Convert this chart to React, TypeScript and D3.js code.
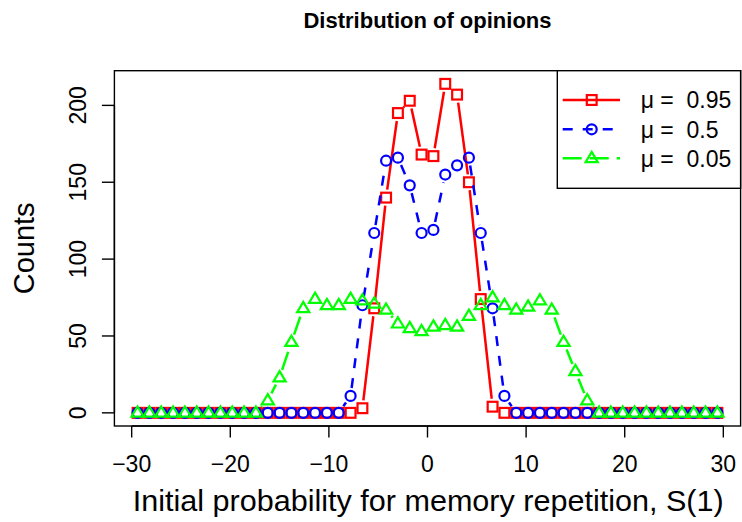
import React from "react";
import * as d3 from "d3";

// bin midpoints of S(1)
const binMids = [
  -29.4, -28.2, -27, -25.8, -24.6, -23.4, -22.2, -21, -19.8, -18.6,
  -17.4, -16.2, -15, -13.8, -12.6, -11.4, -10.2, -9, -7.8, -6.6,
  -5.4, -4.2, -3, -1.8, -0.6, 0.6, 1.8, 3, 4.2, 5.4,
  6.6, 7.8, 9, 10.2, 11.4, 12.6, 13.8, 15, 16.2, 17.4,
  18.6, 19.8, 21, 22.2, 23.4, 24.6, 25.8, 27, 28.2, 29.4,
];

const countsHigh = [
  0, 0, 0, 0, 0, 0, 0, 0, 0, 0,
  0, 0, 0, 0, 0, 0, 0, 0, 0, 3,
  68, 140, 195, 203, 168, 167, 214, 207, 150, 74,
  4, 0, 0, 0, 0, 0, 0, 0, 0, 0,
  0, 0, 0, 0, 0, 0, 0, 0, 0, 0,
];

const countsMid = [
  0, 0, 0, 0, 0, 0, 0, 0, 0, 0,
  0, 0, 0, 0, 0, 0, 0, 0, 11, 70,
  117, 164, 166, 148, 117, 119, 155, 161, 166, 117,
  68, 11, 0, 0, 0, 0, 0, 0, 0, 0,
  0, 0, 0, 0, 0, 0, 0, 0, 0, 0,
];

const countsLow = [
  0, 0, 0, 0, 0, 0, 0, 0, 0, 0,
  0, 8, 23, 46, 68, 74, 70, 70, 74, 73,
  71, 67, 58, 55, 53, 56, 57, 56, 63, 70,
  75, 70, 67, 69, 73, 67, 46, 27, 8, 0,
  0, 0, 0, 0, 0, 0, 0, 0, 0, 0,
];

const xTicks = [-30, -20, -10, 0, 10, 20, 30];
const yTicks = [0, 50, 100, 150, 200];
const muLabels = ["0.95", "0.5", "0.05"];

const series = [
  { values: countsHigh, color: "#ff0000", dash: "none", shape: "square" },
  { values: countsMid, color: "#0000ff", dash: "10,10", shape: "circle" },
  { values: countsLow, color: "#00ff00", dash: "19,8", shape: "triangle" },
];

const W = 742;
const H = 522;
const box = { left: 114.4, right: 740.6, top: 70.7, bottom: 426 };
const FONT = "'Liberation Sans', Arial, Helvetica, sans-serif";

// R-style 4% axis expansion
function padded(lo: number, hi: number): [number, number] {
  const d = (hi - lo) * 0.04;
  return [lo - d, hi + d];
}

function Marker({ shape, x, y, color }: { shape: string; x: number; y: number; color: string }) {
  const sw = 2.2;
  if (shape === "square") {
    return <rect x={x - 4.9} y={y - 4.9} width={9.8} height={9.8} fill="none" stroke={color} strokeWidth={sw} />;
  }
  if (shape === "circle") {
    return <circle cx={x} cy={y} r={5} fill="none" stroke={color} strokeWidth={sw} />;
  }
  const r = 6.4;
  const pts = [
    [x, y - r],
    [x + r * 0.95, y + r * 0.6],
    [x - r * 0.95, y + r * 0.6],
  ];
  return <polygon points={pts.map((p) => p.join(",")).join(" ")} fill="none" stroke={color} strokeWidth={sw} />;
}

export default function App() {
  const xs = d3.scaleLinear().domain(padded(d3.min(binMids)!, d3.max(binMids)!)).range([box.left, box.right]);
  const allVals = [...countsHigh, ...countsMid, ...countsLow];
  const ys = d3.scaleLinear().domain(padded(0, d3.max(allVals)!)).range([box.bottom, box.top]);

  const gap = 8;
  const segs = (vals: number[]) => {
    const out: [number, number, number, number][] = [];
    for (let i = 0; i < vals.length - 1; i++) {
      const x1 = xs(binMids[i]), y1 = ys(vals[i]);
      const x2 = xs(binMids[i + 1]), y2 = ys(vals[i + 1]);
      const len = Math.hypot(x2 - x1, y2 - y1);
      if (len <= 2 * gap) continue;
      const ux = (x2 - x1) / len, uy = (y2 - y1) / len;
      out.push([x1 + ux * gap, y1 + uy * gap, x2 - ux * gap, y2 - uy * gap]);
    }
    return out;
  };

  const legendRows = [100, 129.3, 158.3];

  return (
    <svg
      width={W}
      height={H}
      style={{ position: "absolute", left: 0, top: 0, background: "#fff" }}
      fontFamily={FONT}
    >
      <rect x={0} y={0} width={W} height={H} fill="#fff" />

      <text x={(box.left + box.right) / 2} y={28.3} textAnchor="middle" fontSize={22} fontWeight="bold">
        Distribution of opinions
      </text>

      {series.map((s, k) => (
        <g key={k}>
          {segs(s.values).map((d, i) => (
            <line
              key={i}
              x1={d[0]} y1={d[1]} x2={d[2]} y2={d[3]}
              stroke={s.color}
              strokeWidth={2.5}
              strokeDasharray={s.dash}
            />
          ))}
          {s.values.map((v, i) => (
            <Marker key={i} shape={s.shape} x={xs(binMids[i])} y={ys(v)} color={s.color} />
          ))}
        </g>
      ))}

      <rect
        x={box.left} y={box.top}
        width={box.right - box.left} height={box.bottom - box.top}
        fill="none" stroke="#000" strokeWidth={1.4}
      />

      {/* x axis */}
      <line x1={xs(xTicks[0])} x2={xs(xTicks[xTicks.length - 1])} y1={box.bottom} y2={box.bottom} stroke="#000" strokeWidth={1.4} />
      {xTicks.map((t) => (
        <g key={t}>
          <line x1={xs(t)} x2={xs(t)} y1={box.bottom} y2={box.bottom + 11.5} stroke="#000" strokeWidth={1.4} />
          <text x={xs(t)} y={471.7} textAnchor="middle" fontSize={23}>
            {t < 0 ? "\u2212" + Math.abs(t) : String(t)}
          </text>
        </g>
      ))}

      {/* y axis */}
      <line x1={box.left} x2={box.left} y1={ys(yTicks[0])} y2={ys(yTicks[yTicks.length - 1])} stroke="#000" strokeWidth={1.4} />
      {yTicks.map((t) => (
        <g key={t}>
          <line x1={box.left - 12.5} x2={box.left} y1={ys(t)} y2={ys(t)} stroke="#000" strokeWidth={1.4} />
          <text
            transform={`translate(86,${ys(t)}) rotate(-90)`}
            textAnchor="middle"
            fontSize={23}
          >
            {t}
          </text>
        </g>
      ))}

      <text
        x={132.7}
        y={510.7}
        fontSize={29}
        textLength={591}
        lengthAdjust="spacingAndGlyphs"
      >
        Initial probability for memory repetition, S(1)
      </text>
      <text transform={`translate(33.5,${(box.top + box.bottom) / 2}) rotate(-90)`} textAnchor="middle" fontSize={29}>
        Counts
      </text>

      {/* legend */}
      <rect x={557.3} y={box.top} width={box.right - 557.3} height={188.3 - box.top} fill="#fff" stroke="#000" strokeWidth={1.4} />
      {series.map((s, k) => (
        <g key={k}>
          <line
            x1={562.7} x2={620} y1={legendRows[k]} y2={legendRows[k]}
            stroke={s.color} strokeWidth={2.5} strokeDasharray={s.dash}
          />
          <Marker shape={s.shape} x={591.7} y={legendRows[k]} color={s.color} />
          <text x={640.7} y={legendRows[k] + 8.3} fontSize={23} style={{ whiteSpace: "pre" }}>
            {"\u03bc =  " + muLabels[k]}
          </text>
        </g>
      ))}
    </svg>
  );
}
